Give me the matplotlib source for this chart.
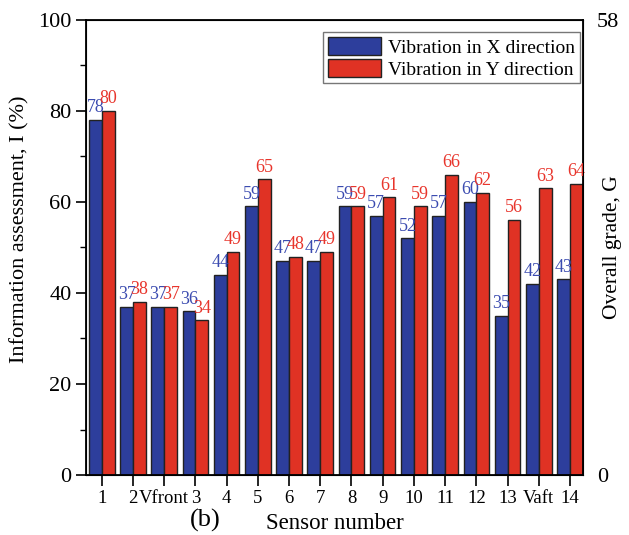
import matplotlib.pyplot as plt
import numpy as np

plt.rcParams['font.family'] = ['Liberation Serif', 'DejaVu Serif']

sensors = ["1", "2", "Vfront", "3", "4", "5", "6", "7", "8", "9", "10", "11", "12", "13", "Vaft", "14"]
vib_x = [78, 37, 37, 36, 44, 59, 47, 47, 59, 57, 52, 57, 60, 35, 42, 43]
vib_y = [80, 38, 37, 34, 49, 65, 48, 49, 59, 61, 59, 66, 62, 56, 63, 64]

blue = "#2d3e9c"
red = "#e03224"

fig = plt.figure(figsize=(6.29, 5.35), dpi=100)
ax = fig.add_axes([0.137, 0.112, 0.79, 0.851])

x = np.arange(len(sensors))
w = 0.41
ax.bar(x - w / 2, vib_x, width=w, color=blue, edgecolor="#222222", linewidth=1.0,
       label="Vibration in X direction")
ax.bar(x + w / 2, vib_y, width=w, color=red, edgecolor="#222222", linewidth=1.0,
       label="Vibration in Y direction")

for i in range(len(sensors)):
    ax.text(x[i] - w / 2, vib_x[i] + 0.8, str(vib_x[i]), color="#3b4bb0",
            ha="center", va="bottom", fontsize=13)
    ax.text(x[i] + w / 2, vib_y[i] + 0.8, str(vib_y[i]), color="#e8352c",
            ha="center", va="bottom", fontsize=13)

ax.set_xlim(-0.5, 15.42)
ax.set_ylim(0, 100)
ax.set_xticks(x)
ax.set_xticklabels(sensors, fontsize=13.5)
ax.set_yticks(np.arange(0, 101, 20))
ax.set_yticks(np.arange(10, 100, 20), minor=True)
ax.tick_params(axis="y", labelsize=16, length=7, width=1.2, direction="out")
ax.tick_params(axis="y", which="minor", length=4, width=1.0)
ax.tick_params(axis="x", length=8, width=1.2, direction="out", pad=3)
ax.set_ylabel("Information assessment, I (%)", fontsize=16, labelpad=6)
ax.yaxis.set_label_coords(-0.115, 0.54)
ax.set_xlabel("Sensor number", fontsize=16.5, labelpad=4)
for s in ax.spines.values():
    s.set_linewidth(1.3)

ax.legend(loc="upper right", bbox_to_anchor=(1.0, 0.98), fontsize=14, frameon=True,
          fancybox=False, edgecolor="#777777", framealpha=1, borderaxespad=0.15,
          handlelength=2.7, handleheight=1.1, handletextpad=0.4,
          borderpad=0.25, labelspacing=0.1)

ax2 = ax.twinx()
ax2.set_ylim(0, 58)
ax2.set_yticks([0, 58])
ax2.tick_params(axis="y", labelsize=16, length=0, pad=10)
ax2.set_ylabel("Overall grade, G", fontsize=15.5)
ax2.yaxis.set_label_coords(1.04, 0.5)

fig.text(0.326, 0.027, "(b)", fontsize=19, ha="center", va="center")

fig.savefig("out.png", dpi=100)
